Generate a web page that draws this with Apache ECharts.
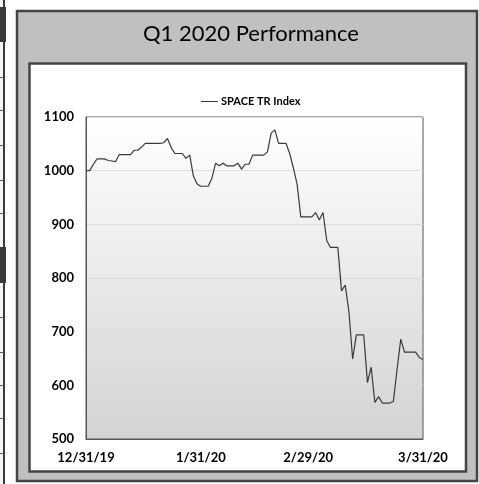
<!DOCTYPE html>
<html>
<head>
<meta charset="utf-8">
<script src="https://cdn.jsdelivr.net/npm/echarts@6/dist/echarts.min.js"></script>
<style>
  html, body { margin: 0; padding: 0; background: #ffffff; }
  #main { width: 479px; height: 484px; }
</style>
</head>
<body>
<div id="main"></div>
<script>
// 日期（日历日，含周末）
var dates = [
  "12/31/19",
  "1/1/20","1/2/20","1/3/20","1/4/20","1/5/20","1/6/20","1/7/20","1/8/20","1/9/20","1/10/20",
  "1/11/20","1/12/20","1/13/20","1/14/20","1/15/20","1/16/20","1/17/20","1/18/20","1/19/20","1/20/20",
  "1/21/20","1/22/20","1/23/20","1/24/20","1/25/20","1/26/20","1/27/20","1/28/20","1/29/20","1/30/20","1/31/20",
  "2/1/20","2/2/20","2/3/20","2/4/20","2/5/20","2/6/20","2/7/20","2/8/20","2/9/20","2/10/20",
  "2/11/20","2/12/20","2/13/20","2/14/20","2/15/20","2/16/20","2/17/20","2/18/20","2/19/20","2/20/20",
  "2/21/20","2/22/20","2/23/20","2/24/20","2/25/20","2/26/20","2/27/20","2/28/20","2/29/20",
  "3/1/20","3/2/20","3/3/20","3/4/20","3/5/20","3/6/20","3/7/20","3/8/20","3/9/20","3/10/20",
  "3/11/20","3/12/20","3/13/20","3/14/20","3/15/20","3/16/20","3/17/20","3/18/20","3/19/20","3/20/20",
  "3/21/20","3/22/20","3/23/20","3/24/20","3/25/20","3/26/20","3/27/20","3/28/20","3/29/20","3/30/20","3/31/20"
];
// SPACE TR Index 数值
var spaceValues = [
  1000,
  1000,1012,1022,1022,1022,1019,1018,1017,1030,1030,
  1030,1030,1038,1038,1044,1051,1051,1051,1051,1051,
  1052,1060,1043,1032,1032,1032,1023,1029,990,975,971,
  971,971,986,1014,1009,1014,1009,1009,1009,1014,
  1003,1012,1012,1029,1029,1029,1029,1035,1070,1076,
  1051,1051,1051,1032,1005,975,914,914,914,
  914,922,908,922,870,857,857,857,776,787,
  737,649,694,694,694,605,634,568,579,567,
  567,567,570,630,686,662,662,662,662,652,648
];
var tickLabels = ["12/31/19", "1/31/20", "2/29/20", "3/31/20"];
var seriesName = "SPACE TR Index";
var titleText = "Q1 2020 Performance";

var chart = echarts.init(document.getElementById('main'), null, { renderer: 'canvas' });

// 左侧残留的表格边
var sideLines = [77, 110, 145, 180, 213, 317, 352, 385, 418, 453];
var graphics = [
  { type: 'rect', shape: { x: 0, y: 0, width: 4, height: 484 }, style: { fill: '#f4f4f7' }, z: 0 },
  { type: 'rect', shape: { x: 0, y: 7, width: 6, height: 35 }, style: { fill: '#3a3a3a' }, z: 1 },
  { type: 'rect', shape: { x: 0, y: 247, width: 6, height: 36 }, style: { fill: '#3a3a3a' }, z: 1 },
  { type: 'line', shape: { x1: 4, y1: 0, x2: 4, y2: 484 }, style: { stroke: '#3a3a3a', lineWidth: 2 }, z: 1 },
  // 外框
  { type: 'rect', shape: { x: 17, y: 11, width: 460, height: 470 }, style: { fill: '#c0c0c0', stroke: '#444444', lineWidth: 2.5 }, z: -10 },
  // 内框
  { type: 'rect', shape: { x: 29.5, y: 63.5, width: 436.5, height: 408 }, style: { fill: '#ffffff', stroke: '#444444', lineWidth: 2.5 }, z: -9 }
];
sideLines.forEach(function (y) {
  graphics.push({ type: 'line', shape: { x1: 0, y1: y + 0.5, x2: 4, y2: y + 0.5 }, style: { stroke: '#555555', lineWidth: 1 }, z: 1 });
});

var option = {
  backgroundColor: '#ffffff',
  animation: false,
  title: {
    text: titleText,
    left: 138,
    top: 18,
    textStyle: { fontFamily: 'Lato', fontWeight: 'normal', fontSize: 22, color: '#000000' }
  },
  legend: {
    data: [seriesName],
    left: 196,
    top: 91,
    icon: 'rect',
    itemWidth: 17,
    itemHeight: 1,
    itemGap: 3,
    textStyle: { fontFamily: 'Lato', fontWeight: 'bold', fontSize: 11, color: '#000000', padding: [0, 0, 0, -2] }
  },
  graphic: graphics,
  grid: {
    left: 86,
    right: 56,
    top: 117,
    bottom: 45,
    show: true,
    borderColor: '#555555',
    borderWidth: 1,
    backgroundColor: {
      type: 'linear', x: 0, y: 0, x2: 0, y2: 1,
      colorStops: [{ offset: 0, color: '#ffffff' }, { offset: 1, color: '#d3d3d3' }]
    }
  },
  xAxis: {
    type: 'category',
    data: dates,
    boundaryGap: false,
    axisLine: { lineStyle: { color: '#555555', width: 1 } },
    axisTick: { show: false },
    axisLabel: {
      margin: 12,
      color: '#000000',
      fontFamily: 'Lato',
      fontWeight: 'bold',
      fontSize: 13,
      interval: function (index, value) {
        return tickLabels.indexOf(value) >= 0;
      },
      showMinLabel: true,
      showMaxLabel: true
    },
    splitLine: { show: false }
  },
  yAxis: {
    type: 'value',
    min: 500,
    max: 1100,
    interval: 100,
    axisLine: { show: true, lineStyle: { color: '#555555', width: 1 } },
    axisTick: { show: false },
    axisLabel: {
      margin: 12,
      color: '#000000',
      fontFamily: 'Lato',
      fontWeight: 'bold',
      fontSize: 13,
      formatter: function (v) { return String(v); }
    },
    splitLine: { lineStyle: { color: '#dcdcdc', width: 1 } }
  },
  series: [{
    name: seriesName,
    type: 'line',
    data: spaceValues,
    showSymbol: false,
    symbol: 'none',
    lineStyle: { color: '#3a3a3a', width: 1.2 },
    itemStyle: { color: '#3a3a3a' }
  }]
};

chart.setOption(option);
</script>
</body>
</html>
